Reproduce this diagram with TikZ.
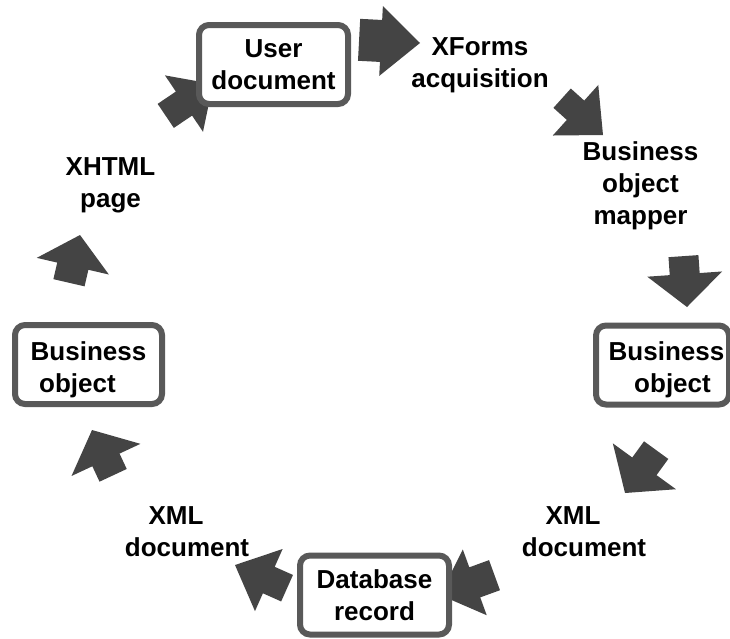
\documentclass[tikz,border=0pt]{standalone}
\usepackage{fontspec}
\setmainfont{Liberation Sans}
\definecolor{boxgray}{HTML}{595959}
\definecolor{arrowgray}{HTML}{444444}
\begin{document}
\begin{tikzpicture}[x=1pt,y=-1pt,
  txt/.style={font=\fontsize{26}{32}\selectfont\bfseries, align=center, inner sep=0pt, text=black},
  frame/.style={draw=boxgray, line width=6pt, rounded corners=10pt, fill=white,
              minimum width=149pt, minimum height=79pt, inner sep=0pt},
  box/.style={txt, frame},
  % block arrow with its tip at the origin, pointing along +x:
  % #1 head half-width, #2 head length, #3 shaft half-width, #4 shaft length
  pics/barrow/.style n args={4}{code={
    \fill[arrowgray] (0,0) -- (-#2,#1) -- (-#2,#3) -- ({-#2-#4},#3)
      -- ({-#2-#4},-#3) -- (-#2,-#3) -- (-#2,-#1) -- cycle;}}]
\useasboundingbox (0,0) rectangle (730,638);

% block arrows around the cycle
\pic[rotate=-3]   at (420,43)  {barrow={35}{39}{21}{22}};
\pic[rotate=-42]  at (603,135) {barrow={34}{37}{13}{18}};
\pic[rotate=-86]  at (687,307) {barrow={37.5}{33}{15}{18}};
\pic[rotate=-126] at (625,493) {barrow={39}{33}{15}{20}};
\pic[rotate=200]  at (440,595) {barrow={35}{37}{16}{21}};
\pic[rotate=156]  at (235,565) {barrow={34}{37}{14.5}{20}};
\pic[rotate=115]  at (92,430)  {barrow={38}{33}{15}{17}};
\pic[rotate=77]   at (80,235)  {barrow={37}{32}{16}{17}};
\pic[rotate=34]   at (213,84)  {barrow={34}{35}{14.5}{22}};

% framed stages
\node[box] (userdoc) at (273.5,64.5) {User\\document};
\node[box] (dbrec) at (374.5,595) {Database\\record};
\node[frame, minimum width=133pt] (bobjr) at (662.5,365) {};
\node[txt] (bobjrtext) at ([yshift=-5pt]bobjr.center) {\hspace*{8pt}Business\\\hspace*{20pt}object};
\node[frame, minimum width=147pt] (bobjl) at (88.5,364.5) {};
\node[txt] (bobjltext) at ([yshift=-5pt]bobjl.center) {Business\\object\hspace*{22pt}};

% plain stages
\node[txt] (xforms) at (480,65) {XForms\\acquisition};
\node[txt] (mapper) at (640.5,186) {Business\\object\\mapper};
\node[txt] (xmlr) at (584,532) {XML\hspace*{22pt}\\document};
\node[txt] (xmll) at (187,532) {XML\hspace*{22pt}\\document};
\node[txt] (xhtml) at (110.5,185) {XHTML\\page};
\end{tikzpicture}
\end{document}
